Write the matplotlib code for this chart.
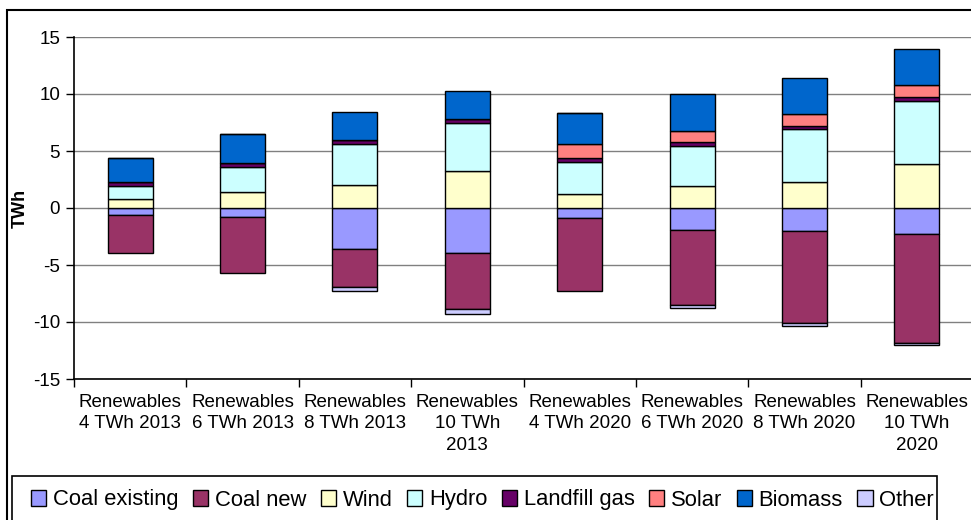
import matplotlib
matplotlib.use("Agg")
import matplotlib.pyplot as plt
from matplotlib.patches import Rectangle
import numpy as np

plt.rcParams['font.family'] = ['Liberation Sans', 'DejaVu Sans']

categories = ["Renewables\n4 TWh 2013", "Renewables\n6 TWh 2013", "Renewables\n8 TWh 2013",
              "Renewables\n10 TWh\n2013", "Renewables\n4 TWh 2020", "Renewables\n6 TWh 2020",
              "Renewables\n8 TWh 2020", "Renewables\n10 TWh\n2020"]

coal_existing = [-0.60, -0.82, -3.63, -3.98, -0.91, -1.96, -1.99, -2.28]
coal_new      = [-3.37, -4.91, -3.27, -4.91, -6.40, -6.52, -8.07, -9.54]
wind          = [0.79, 1.37, 1.99, 3.27, 1.23, 1.90, 2.31, 3.86]
hydro         = [1.17, 2.25, 3.65, 4.16, 2.83, 3.51, 4.59, 5.55]
landfill_gas  = [0.34, 0.35, 0.32, 0.35, 0.33, 0.35, 0.32, 0.30]
solar         = [0.00, 0.00, 0.00, 0.00, 1.19, 1.02, 1.05, 1.08]
biomass       = [2.06, 2.53, 2.49, 2.48, 2.72, 3.19, 3.13, 3.13]
other         = [0.00, 0.00, -0.35, -0.44, 0.00, -0.32, -0.29, -0.22]

series = [
    ("Coal existing", coal_existing, "#9999FF"),
    ("Coal new", coal_new, "#993366"),
    ("Wind", wind, "#FFFFCC"),
    ("Hydro", hydro, "#CCFFFF"),
    ("Landfill gas", landfill_gas, "#660066"),
    ("Solar", solar, "#FF8080"),
    ("Biomass", biomass, "#0066CC"),
    ("Other", other, "#CCCCFF"),
]

W, H = 971, 520
fig = plt.figure(figsize=(W / 100, H / 100), dpi=100)
ax = fig.add_axes([74 / W, 1 - 379 / H, 899 / W, 342 / H])

x = np.arange(len(categories))
pos_base = np.zeros(len(categories))
neg_base = np.zeros(len(categories))
handles = []
for name, vals, col in series:
    v = np.array(vals, dtype=float)
    base = np.where(v >= 0, pos_base, neg_base)
    b = ax.bar(x, v, width=0.4, bottom=base, color=col, edgecolor="black",
               linewidth=1.0, label=name, zorder=3)
    handles.append(b)
    pos_base = pos_base + np.where(v >= 0, v, 0)
    neg_base = neg_base + np.where(v < 0, v, 0)

ax.set_xlim(-0.5, len(categories) - 0.5)
ax.set_ylim(-15, 15)
ax.set_yticks(np.arange(-15, 16, 5))
ax.set_yticklabels([str(t) for t in range(-15, 16, 5)], fontsize=13.5)
ax.yaxis.grid(True, color="#808080", linewidth=1.0, zorder=0)
ax.set_axisbelow(True)

ax.set_xticks(x)
ax.set_xticklabels(categories, fontsize=13.5, linespacing=1.32)
ax.set_xticks(np.arange(-0.5, len(categories) + 0.5, 1), minor=True)
ax.tick_params(axis="x", which="major", length=0, pad=11)
ax.tick_params(axis="x", which="minor", length=6, width=1, direction="out")
ax.tick_params(axis="y", length=6, width=1, direction="out", pad=4)

for s in ["top", "right"]:
    ax.spines[s].set_visible(False)
ax.spines["left"].set_linewidth(1.2)
ax.spines["bottom"].set_linewidth(1.2)

ax.set_ylabel("TWh", fontsize=13, fontweight="bold")
ax.yaxis.set_label_coords(-45 / 899, 0.5)

# outer chart frame
fig.patches.append(Rectangle((7 / W, -0.1), 1.2, 1.1 - 10 / H, transform=fig.transFigure,
                             fill=False, edgecolor="black", linewidth=1.5, zorder=0))
# legend frame
fig.patches.append(Rectangle((12 / W, -0.1), 925 / W, 0.1 + (1 - 476 / H), transform=fig.transFigure,
                             fill=False, edgecolor="black", linewidth=1.2, zorder=1))

leg = fig.legend(handles=handles, loc="center left", bbox_to_anchor=(22 / W, 1 - 500 / H),
                 ncol=8, frameon=False, fontsize=15.8, handlelength=0.7, handleheight=0.7,
                 handletextpad=0.3, columnspacing=0.66, borderaxespad=0)

fig.savefig("out.png", dpi=100)
